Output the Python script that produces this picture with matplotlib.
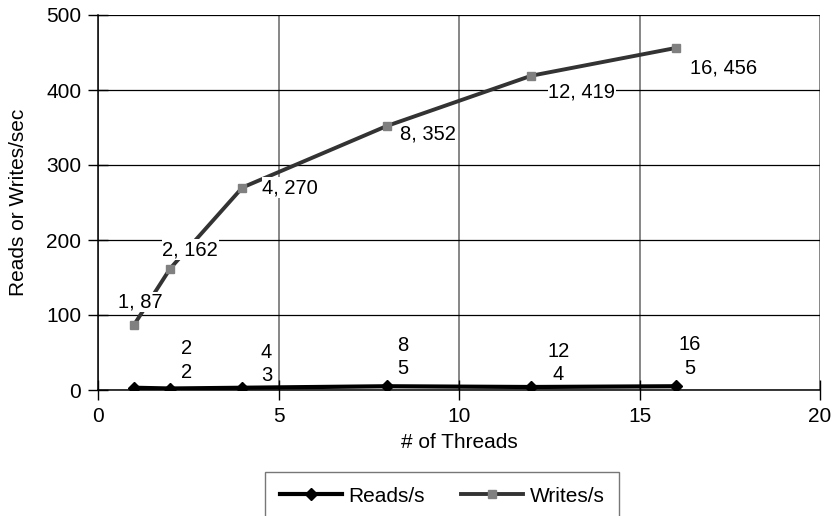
import matplotlib
matplotlib.use("Agg")
import matplotlib.pyplot as plt

plt.rcParams['font.family'] = ['Liberation Sans', 'DejaVu Sans']

threads = [1, 2, 4, 8, 12, 16]
reads = [3, 2, 3, 5, 4, 5]
writes = [87, 162, 270, 352, 419, 456]

# label offsets in pixels (dx, dy)
write_offsets = [(6, 23, 'center'), (20, 19, 'center'), (20, 0, 'left'),
                 (13, -8, 'left'), (17, -16, 'left'), (14, -20, 'left')]
read_offsets = [None, (16, 28), (24, 24), (16, 29), (27, 24), (14, 30)]

fs = 15

fig = plt.figure(figsize=(8.38, 5.16), dpi=100, facecolor='w')
ax = fig.add_axes([98 / 838, 1 - 390 / 516, 722 / 838, 375 / 516])

ax.plot(threads, reads, color='black', lw=3, marker='D', ms=6,
        label='Reads/s', zorder=4)
ax.plot(threads, writes, color='#333333', lw=2.8, marker='s', ms=6,
        mfc='#808080', mec='#808080', label='Writes/s', zorder=3)

box = dict(facecolor='white', edgecolor='none', pad=0.5)
for x, y, (dx, dy, ha) in zip(threads, writes, write_offsets):
    ax.annotate(f"{x}, {y}", (x, y), xytext=(dx, dy), textcoords='offset pixels',
                ha=ha, va='center', fontsize=14.5, bbox=box, zorder=5)
for x, y, off in zip(threads, reads, read_offsets):
    if off is None:
        continue
    ax.annotate(f"{x}\n{y}", (x, y), xytext=off, textcoords='offset pixels',
                ha='center', va='center', fontsize=14.5, linespacing=1.3, zorder=5)

ax.set_xlim(0, 20)
ax.set_ylim(0, 500)
ax.set_xticks([0, 5, 10, 15, 20])
ax.set_yticks([0, 100, 200, 300, 400, 500])
ax.tick_params(direction='inout', length=14, width=1, labelsize=fs, pad=5)
ax.set_axisbelow(True)
ax.yaxis.grid(True, color='black', lw=0.9)
ax.xaxis.grid(True, color='#666666', lw=1.1)
for s in ('top', 'right'):
    ax.spines[s].set_visible(False)
for s in ('left', 'bottom'):
    ax.spines[s].set_linewidth(1.1)

ax.set_xlabel('# of Threads', fontsize=fs, labelpad=5)
ax.set_ylabel('Reads or Writes/sec', fontsize=fs, labelpad=13)

top = 1 - 472 / 516
leg = fig.legend(loc='upper left', bbox_to_anchor=(265 / 838, top - 0.1, 354 / 838, 0.1),
                 mode='expand', ncol=2, fontsize=fs, frameon=True, fancybox=False,
                 handlelength=3.0, handletextpad=0.3, borderpad=0.7, borderaxespad=0)
leg.get_frame().set_edgecolor('#555555')
leg.get_frame().set_linewidth(1)

fig.savefig('out.png', dpi=100)
